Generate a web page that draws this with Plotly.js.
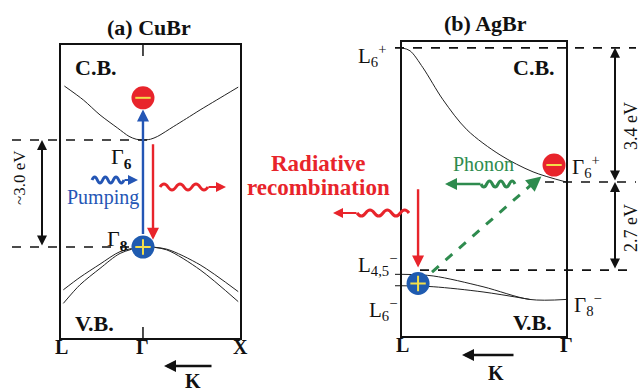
<!DOCTYPE html>
<html><head><meta charset="utf-8">
<script src="https://cdn.plot.ly/plotly-3.0.1.min.js"></script>
<style>html,body{margin:0;padding:0;background:#fff}</style>
</head><body><div id="c" style="width:642px;height:392px"></div>
<script>
// ---- Data (schematic band energies, eV-like units) ----
// (a) CuBr : k runs L(0) -> Gamma(0.458) -> X(1)
const cuK_cb  = [0.019,0.125,0.218,0.317,0.380,0.420,0.458,0.500,0.540,0.627,0.701,0.777,0.870,0.990];
const cuE_cb  = [4.51,4.12,3.70,3.33,3.10,3.02,3.00,3.02,3.10,3.37,3.60,3.84,4.12,4.48];
const cuK_vb  = [0.013,0.106,0.218,0.330,0.458,0.590,0.777,0.990];
const cuE_vb1 = [-1.20,-0.85,-0.48,-0.13,0.00,-0.06,-0.50,-1.25];
const cuE_vb2 = [-1.58,-1.06,-0.60,-0.18,0.00,-0.08,-0.64,-1.53];
const cuTickK = [0,0.458,1];
const cuTickText = ['L','Γ','X'];
const cuGap = [0,3.0];          // Gamma8, Gamma6
// (b) AgBr : k runs L(0) -> Gamma(1)
const agK_cb = [0,0.049,0.128,0.25,0.396,0.598,0.799,1];
const agE_cb = [6.81,6.72,6.20,5.22,4.30,3.53,3.01,2.70];
const agK_vb1 = [0,0.19,0.494,0.78,1];
const agE_vb1 = [-0.13,-0.18,-0.51,-0.90,-0.90];
const agK_vb2 = [0,0.19,0.494,0.78];
const agE_vb2 = [-0.48,-0.51,-0.67,-0.90];
const agTickK = [0,1];
const agTickText = ['L','Γ'];
const agLevels = [0,2.7,6.81]; // L4,5-, Gamma6+, L6+

// ---- styling helpers ----
const W=642,H=392;
const PX=x=>x/W, PY=y=>1-y/H;
const SERIF='Liberation Serif';
const RED='#e8242b', BLUE='#2456b5', HBLUE='#1f5bb0', GREEN='#2e8b4e', YEL='#f3df4a';

function band(x,y,xa,ya,sm){return {x:x,y:y,xaxis:xa,yaxis:ya,mode:'lines',
  line:{color:'#222',width:1,shape:'spline',smoothing:sm},hoverinfo:'skip',showlegend:false};}

const traces=[
  band(cuK_cb,cuE_cb,'x','y',0.8),
  band(cuK_vb,cuE_vb1,'x','y',0.8),
  band(cuK_vb,cuE_vb2,'x','y',0.8),
  band(agK_cb,agE_cb,'x2','y2',0.9),
  band(agK_vb1,agE_vb1,'x2','y2',0.9),
  band(agK_vb2,agE_vb2,'x2','y2',0.9),
  // green dashed phonon-assisted path
  {x:[0.183,0.83],y:[-0.06,2.80],xaxis:'x2',yaxis:'y2',mode:'lines',
   line:{color:GREEN,width:3,dash:'dash'},hoverinfo:'skip',showlegend:false},
];
function carrier(k,E,xa,ya,fill,sym){
  traces.push({x:[k],y:[E],xaxis:xa,yaxis:ya,mode:'markers',hoverinfo:'skip',showlegend:false,
    marker:{size:23,color:fill,line:{width:0}}});
  traces.push({x:[k],y:[E],xaxis:xa,yaxis:ya,mode:'markers',hoverinfo:'skip',showlegend:false,
    marker:{size:11,symbol:sym,color:YEL,line:{color:YEL,width:2}}});
}
carrier(cuTickK[1],4.18,'x','y',RED,'line-ew');
carrier(cuTickK[1],cuGap[0],'x','y',HBLUE,'cross-thin');
carrier(0.927,3.22,'x2','y2',RED,'line-ew');
carrier(0.098,-0.41,'x2','y2',HBLUE,'cross-thin');

// wavy photon paths (decoration)
function wave(x0,x1,y,amp,n){
  let d='M'+PX(x0)+','+PY(y); const step=(x1-x0)/n;
  for(let i=0;i<n;i++){const xa=x0+step*i, s=(i%2?1:-1);
    d+=' Q'+PX(xa+step/2)+','+PY(y+s*amp*2)+' '+PX(xa+step)+','+PY(y);}
  return d;
}
const shapes=[];
function addWave(x0,x1,y,c){shapes.push({type:'path',xref:'paper',yref:'paper',path:wave(x0,x1,y,3,6),line:{color:c,width:3}});}
addWave(92,124,180,BLUE);
addWave(160,208,187,RED);
addWave(409,357,213,RED);
addWave(515,481,184,GREEN);
// dashed level lines
function hdash(x0,x1,E,yref){shapes.push({type:'line',xref:'paper',yref:yref,x0:PX(x0),x1:PX(x1),y0:E,y1:E,line:{color:'#111',width:1.6,dash:'dash'}});}
hdash(12,152,cuGap[1],'y');
hdash(12,133,cuGap[0],'y');
hdash(395,636,agLevels[2],'y2');
hdash(545,636,agLevels[1],'y2');
hdash(420,636,agLevels[0],'y2');
// Gamma ticks on CuBr box
shapes.push({type:'line',xref:'x',yref:'paper',x0:cuTickK[1],x1:cuTickK[1],y0:PY(45),y1:PY(56),line:{color:'#111',width:1.5}});
shapes.push({type:'line',xref:'x',yref:'paper',x0:cuTickK[1],x1:cuTickK[1],y0:PY(338),y1:PY(327),line:{color:'#111',width:1.5}});
// small ticks at L for AgBr valence levels
shapes.push({type:'line',xref:'paper',yref:'y2',x0:PX(395),x1:PX(402),y0:agE_vb1[0],y1:agE_vb1[0],line:{color:'#111',width:1}});
shapes.push({type:'line',xref:'paper',yref:'y2',x0:PX(395),x1:PX(402),y0:agE_vb2[0],y1:agE_vb2[0],line:{color:'#111',width:1}});

const ann=[];
function txt(x,y,t,size,color,opt){ann.push(Object.assign({xref:'paper',yref:'paper',x:PX(x),y:PY(y),text:t,showarrow:false,
  font:{family:SERIF,size:size,color:color||'#111'},xanchor:'center',yanchor:'middle'},opt||{}));}
txt(149,28,'<b>(a) CuBr</b>',22);
txt(485,24,'<b>(b) AgBr</b>',22);
txt(96,68,'<b>C.B.</b>',22);
txt(95,323,'<b>V.B.</b>',22);
txt(534,68,'<b>C.B.</b>',22);
txt(532,322,'<b>V.B.</b>',22);
txt(121,158,'Γ<sub><b>6</b></sub>',22);
txt(117,240,'Γ<sub><b>8</b></sub>',22);
txt(103,197,'Pumping',20,BLUE);
txt(483,164,'Phonon',20,GREEN);
txt(318,163,'<b>Radiative</b>',23,RED);
txt(318,187,'<b>recombination</b>',23,RED);
txt(19,178,'~3.0 eV',17,'#111',{textangle:-90});
txt(631,126,'3.4 eV',18,'#111',{textangle:-90});
txt(631,228,'2.7 eV',18,'#111',{textangle:-90});
txt(372,56,'L<sub>6</sub><sup>+</sup>',21);
txt(586,167,'Γ<sub>6</sub><sup>+</sup>',21);
txt(377,264,'L<sub>4,5</sub><sup>−</sup>',21);
txt(383,309,'L<sub>6</sub><sup>−</sup>',21);
txt(588,304,'Γ<sub>8</sub><sup>−</sup>',21);
txt(193,381,'<b>K</b>',20);
txt(496,373,'<b>K</b>',20);
// k-point tick labels
cuTickK.forEach((k,i)=>ann.push({xref:'x',yref:'paper',x:k,y:PY(360),text:'<b>'+cuTickText[i]+'</b>',showarrow:false,font:{family:SERIF,size:20,color:'#111'}}));
agTickK.forEach((k,i)=>ann.push({xref:'x2',yref:'paper',x:k,y:PY(358),text:'<b>'+agTickText[i]+'</b>',showarrow:false,font:{family:SERIF,size:20,color:'#111'}}));
// arrows
function arr(o){ann.push(Object.assign({showarrow:true,text:'',arrowhead:2,arrowsize:1,arrowwidth:2.2,arrowcolor:'#111'},o));}
// pumping (blue up) & recombination (red down) in CuBr
arr({xref:'x',yref:'y',axref:'x',ayref:'y',x:cuTickK[1],y:3.85,ax:cuTickK[1],ay:0.32,arrowcolor:BLUE,arrowwidth:2.4});
arr({xref:'x',yref:'y',axref:'x',ayref:'y',x:0.514,y:0.2,ax:0.514,ay:2.92,arrowcolor:RED,arrowwidth:2.4});
// AgBr recombination
arr({xref:'x2',yref:'y2',axref:'x2',ayref:'y2',x:0.098,y:0.08,ax:0.098,ay:2.52,arrowcolor:RED,arrowwidth:2.4});
// green arrowhead
arr({xref:'x2',yref:'y2',axref:'x2',ayref:'y2',x:0.85,y:2.87,ax:0.80,ay:2.66,arrowcolor:GREEN,arrowwidth:3});
// photon arrow tips
arr({xref:'paper',yref:'paper',x:PX(138),y:PY(180),ax:-15,ay:0,arrowcolor:BLUE,arrowwidth:2});
arr({xref:'paper',yref:'paper',x:PX(226),y:PY(187),ax:-19,ay:0,arrowcolor:RED,arrowwidth:2});
arr({xref:'paper',yref:'paper',x:PX(333),y:PY(213),ax:25,ay:0,arrowcolor:RED,arrowwidth:2});
arr({xref:'paper',yref:'paper',x:PX(445),y:PY(184),ax:37,ay:0,arrowcolor:GREEN,arrowwidth:2.4});
// K direction arrows
arr({xref:'paper',yref:'paper',x:PX(164),y:PY(366),ax:49,ay:0,arrowwidth:2.4});
arr({xref:'paper',yref:'paper',x:PX(462),y:PY(355),ax:53,ay:0,arrowwidth:2.4});
// energy gap double arrows
arr({xref:'paper',yref:'y',axref:'pixel',ayref:'y',x:PX(42),y:cuGap[1],ax:0,ay:cuGap[0],arrowside:'end+start',arrowwidth:2});
arr({xref:'paper',yref:'y2',axref:'pixel',ayref:'y2',x:PX(615),y:agLevels[2],ax:0,ay:agLevels[1],arrowside:'end+start',arrowwidth:2});
arr({xref:'paper',yref:'y2',axref:'pixel',ayref:'y2',x:PX(615),y:agLevels[1],ax:0,ay:agLevels[0],arrowside:'end+start',arrowwidth:2});

const ax=(dom)=>({domain:dom,showgrid:false,zeroline:false,showticklabels:false,ticks:'',
  showline:true,mirror:true,linecolor:'#111',linewidth:2,fixedrange:true});
const layout={width:W,height:H,margin:{l:0,r:0,t:0,b:0},paper_bgcolor:'#fff',plot_bgcolor:'#fff',showlegend:false,
  xaxis:Object.assign(ax([PX(61),PX(240)]),{range:[0,1],anchor:'y'}),
  yaxis:Object.assign(ax([PY(338),PY(45)]),{range:[-2.55,5.66],anchor:'x'}),
  xaxis2:Object.assign(ax([PX(402),PX(566)]),{range:[0,1],anchor:'y2'}),
  yaxis2:Object.assign(ax([PY(336),PY(42)]),{range:[-2.02,6.99],anchor:'x2'}),
  shapes:shapes,annotations:ann};
Plotly.newPlot('c',traces,layout,{displayModeBar:false,staticPlot:true});
</script></body></html>
